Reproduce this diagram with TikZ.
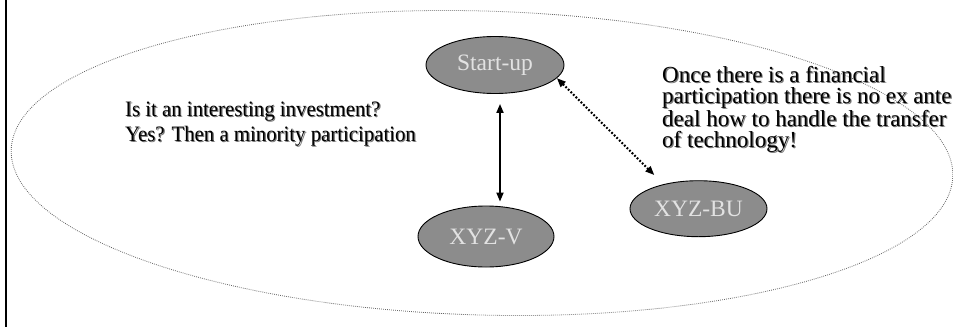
\documentclass[tikz,border=0pt]{standalone}
\usepackage{fontspec}
\setmainfont{Liberation Serif}
\usetikzlibrary{shapes.geometric,arrows.meta,calc}
\definecolor{nodefill}{RGB}{140,140,140}
\definecolor{labelgray}{RGB}{226,226,226}
\definecolor{shadowgray}{RGB}{120,120,120}
% one line of text with a grey drop shadow behind it
\newcommand{\shadowline}[1]{%
  \makebox[0pt][l]{\hspace{1.2pt}\raisebox{-1.2pt}{\color{shadowgray}#1}}#1}
\begin{document}
\begin{tikzpicture}[x=1pt,y=-1pt,
  actor/.style={ellipse,draw=black,line width=0.9pt,fill=nodefill,
    inner sep=0pt,text=labelgray,font=\fontsize{23.5}{26}\selectfont},
  note/.style={align=left,anchor=north west,inner sep=0pt},
  notefont/.style={font=\fontsize{22}{25}\selectfont},
  notefontb/.style={font=\fontsize{23}{21}\selectfont},
  link/.style={line width=1.8pt,{Triangle[length=9pt,width=7pt]}-{Triangle[length=9pt,width=7pt]}},
  dotlink/.style={link,line width=2.1pt,dash pattern=on 1.8pt off 1.8pt}
]
\useasboundingbox (0,0) rectangle (953,327);
\fill[white] (0,0) rectangle (953,327);

% frame edge on the left
\draw[line width=2.3pt] (6.2,0) -- (6.2,327);

% surrounding dotted boundary
\draw[gray!80!black,line width=0.8pt,dash pattern=on 0.8pt off 1.2pt,rotate around={-1.6:(482,163)}]
  (482,163) ellipse [x radius=471, y radius=152];

% parties
\node[actor,minimum width=138,minimum height=57] (su) at (495,65) {Start-up};
\node[actor,minimum width=136,minimum height=61] (vv) at (486,236.5) {XYZ-V};
\node[actor,minimum width=137,minimum height=56] (bu) at (698.5,208.7) {XYZ-BU};

% relations
\draw[link] ($(su.south)+(5,10)$) -- ($(vv.north)+(14,-4)$);
\draw[dotlink,shorten >=13pt] (su.-12) -- (bu.145);

% comments
\node[note,notefont,xscale=0.945] (lq) at (125,102)
  {\shadowline{Is it an interesting investment?}\\
   \shadowline{Yes? Then a minority participation}};
\node[note,notefontb] (rq) at (662,66)
  {\shadowline{Once there is a financial}\\
   \shadowline{participation there is no ex ante}\\
   \shadowline{deal how to handle the transfer}\\
   \shadowline{of technology!}};
\end{tikzpicture}
\end{document}
